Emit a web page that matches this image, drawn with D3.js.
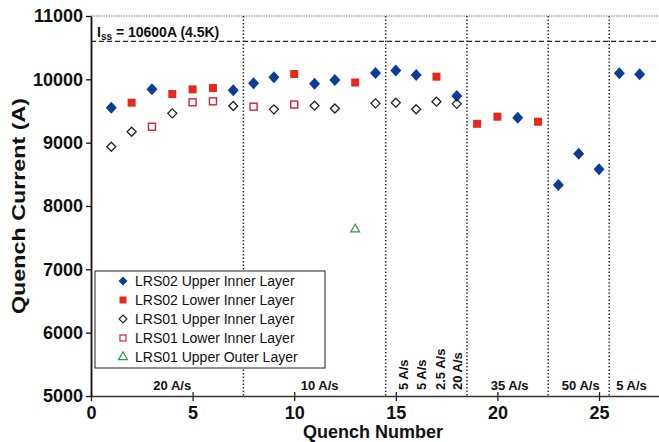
<!DOCTYPE html>
<html>
<head>
  <title>Quench Current</title>
  <script src="https://d3js.org/d3.v7.min.js"></script>
  <style>
    body { margin: 0; background: #fff; }
    text { font-family: "Liberation Sans", Arial, sans-serif; }
  </style>
</head>
<body>
  <div id="chart"></div>

  <script>
    // quench number / current (A) per series
    var lrs02UpperQ = [1, 3, 7, 8, 9, 11, 12, 14, 15, 16, 18, 21, 23, 24, 25, 26, 27];
    var lrs02UpperI = [9552, 9842, 9826, 9937, 10032, 9932, 9989, 10100, 10140, 10068, 9735, 9394, 8332, 8826, 8579, 10095, 10079];

    var lrs02LowerQ = [2, 4, 5, 6, 10, 13, 17, 19, 20, 22];
    var lrs02LowerI = [9631, 9768, 9842, 9863, 10084, 9950, 10042, 9298, 9410, 9331];

    var lrs01UpperQ = [1, 2, 4, 7, 9, 11, 12, 14, 15, 16, 17, 18];
    var lrs01UpperI = [8936, 9173, 9463, 9579, 9526, 9584, 9540, 9621, 9631, 9528, 9647, 9613];

    var lrs01LowerQ = [3, 5, 6, 8, 10];
    var lrs01LowerI = [9252, 9637, 9653, 9568, 9602];

    var lrs01OuterQ = [13];
    var lrs01OuterI = [7632];

    var seriesNames = ["LRS02 Upper Inner Layer", "LRS02 Lower Inner Layer", "LRS01 Upper Inner Layer",
                       "LRS01 Lower Inner Layer", "LRS01 Upper Outer Layer"];

    var xTicks = [0, 5, 10, 15, 20, 25];
    var yTicks = [5000, 6000, 7000, 8000, 9000, 10000, 11000];

    // ramp-rate region boundaries and labels
    var rampBounds = [7.5, 14.5, 18.5, 22.5, 25.5];
    var rampLabels = ["20 A/s", "10 A/s", "35 A/s", "50 A/s", "5 A/s"];
    var rampLabelX = [4, 11.25, 20.6, 24.1, 26.6];
    var rampVertLabels = ["5 A/s", "5 A/s", "2.5 A/s", "20 A/s"];
    var rampVertX = [15.6, 16.5, 17.4, 18.25];

    var issValue = 10600;

    var width = 659, height = 442;
    var margin = { top: 16, left: 91, bottom: 46 };

    var x = d3.scaleLinear().domain([0, 28]).range([margin.left, 660]);
    var y = d3.scaleLinear().domain([5000, 11000]).range([height - margin.bottom, margin.top]);

    var svg = d3.select("#chart").append("svg")
      .attr("width", width)
      .attr("height", height);

    // top border
    svg.append("line")
      .attr("x1", x(0)).attr("x2", 658)
      .attr("y1", y(11000)).attr("y2", y(11000))
      .attr("stroke", "#777").attr("stroke-width", 1.2)
      .attr("stroke-dasharray", "1.5,1");

    // vertical dotted region lines
    svg.selectAll(".bound")
      .data(rampBounds)
      .enter()
      .append("line")
      .attr("x1", function(d) { return x(d); })
      .attr("x2", function(d) { return x(d); })
      .attr("y1", y(11000)).attr("y2", y(5000))
      .attr("stroke", "#333").attr("stroke-width", 1.5)
      .attr("stroke-dasharray", "1.5,2");

    // Iss dashed line
    svg.append("line")
      .attr("x1", x(0)).attr("x2", 658)
      .attr("y1", y(issValue)).attr("y2", y(issValue))
      .attr("stroke", "#222").attr("stroke-width", 1.3)
      .attr("stroke-dasharray", "5,3");

    var iss = svg.append("text")
      .attr("x", x(0) + 6)
      .attr("y", y(issValue) - 4)
      .style("font-size", "14px")
      .style("font-weight", "bold")
      .attr("fill", "#111");
    iss.append("tspan").text("I");
    iss.append("tspan").attr("dy", 3).style("font-size", "10px").text("ss");
    iss.append("tspan").attr("dy", -3).text(" = 10600A (4.5K)");

    // axes
    var xAxis = svg.append("g")
      .attr("transform", "translate(0," + y(5000) + ")")
      .call(d3.axisBottom(x).tickValues(xTicks).tickSize(5).tickPadding(5).tickSizeOuter(0));
    xAxis.select(".domain").attr("stroke", "#333").attr("stroke-width", 1.5);
    xAxis.selectAll(".tick line").attr("y1", -4).attr("stroke", "#222").attr("stroke-width", 1.3);
    xAxis.selectAll(".tick text")
      .style("font-size", "18px").style("font-weight", "bold")
      .style("font-family", "'Liberation Sans', Arial, sans-serif")
      .attr("fill", "#111");

    var yAxis = svg.append("g")
      .attr("transform", "translate(" + x(0) + ",0)")
      .call(d3.axisLeft(y).tickValues(yTicks).tickSize(5).tickPadding(3).tickSizeOuter(0).tickFormat(d3.format("d")));
    yAxis.select(".domain").attr("stroke", "#111").attr("stroke-width", 1.8);
    yAxis.selectAll(".tick line").attr("stroke", "#111").attr("stroke-width", 1.3);
    yAxis.selectAll(".tick text")
      .style("font-size", "18px").style("font-weight", "bold")
      .style("font-family", "'Liberation Sans', Arial, sans-serif")
      .attr("fill", "#111");

    // axis titles
    svg.append("text")
      .attr("x", 373).attr("y", 438)
      .attr("text-anchor", "middle")
      .style("font-size", "18px").style("font-weight", "bold")
      .attr("fill", "#111")
      .text("Quench Number");

    svg.append("text")
      .attr("transform", "translate(25," + (y(5000) + y(11000)) / 2 + ") rotate(-90)")
      .attr("text-anchor", "middle")
      .attr("textLength", 216)
      .attr("lengthAdjust", "spacingAndGlyphs")
      .style("font-size", "18px").style("font-weight", "bold")
      .attr("fill", "#111")
      .text("Quench Current (A)");

    // ramp-rate labels
    svg.selectAll(".ramp")
      .data(rampLabels)
      .enter()
      .append("text")
      .attr("x", function(d, i) { return x(rampLabelX[i]); })
      .attr("y", 390)
      .attr("text-anchor", "middle")
      .style("font-size", "13px").style("font-weight", "bold")
      .attr("fill", "#111")
      .text(function(d) { return d; });

    svg.selectAll(".rampv")
      .data(rampVertLabels)
      .enter()
      .append("text")
      .attr("transform", function(d, i) { return "translate(" + x(rampVertX[i]) + ",390) rotate(-90)"; })
      .attr("text-anchor", "start")
      .style("font-size", "13px").style("font-weight", "bold")
      .attr("fill", "#111")
      .text(function(d) { return d; });

    // markers
    var blue = "#0a3c98", red = "#e8281c", openRed = "#d3203a", green = "#2c9a50";

    function pts(q, v) {
      return q.map(function(d, i) { return { q: d, v: v[i] }; });
    }

    // square diamond (rotated square), half-width w, half-height h
    function diamond(w, h) {
      return "M0," + (-h) + "L" + w + ",0L0," + h + "L" + (-w) + ",0Z";
    }

    var tri = d3.symbol().type(d3.symbolTriangle).size(34);

    svg.selectAll(".s1")
      .data(pts(lrs02UpperQ, lrs02UpperI))
      .enter()
      .append("path")
      .attr("d", diamond(5.5, 6))
      .attr("transform", function(d) { return "translate(" + x(d.q) + "," + y(d.v) + ")"; })
      .attr("fill", blue);

    svg.selectAll(".s2")
      .data(pts(lrs02LowerQ, lrs02LowerI))
      .enter()
      .append("rect")
      .attr("x", function(d) { return x(d.q) - 4; })
      .attr("y", function(d) { return y(d.v) - 4; })
      .attr("width", 8).attr("height", 8)
      .attr("fill", red);

    svg.selectAll(".s3")
      .data(pts(lrs01UpperQ, lrs01UpperI))
      .enter()
      .append("path")
      .attr("d", diamond(4.5, 4.5))
      .attr("transform", function(d) { return "translate(" + x(d.q) + "," + y(d.v) + ")"; })
      .attr("fill", "none")
      .attr("stroke", "#222").attr("stroke-width", 1.3);

    svg.selectAll(".s4")
      .data(pts(lrs01LowerQ, lrs01LowerI))
      .enter()
      .append("rect")
      .attr("x", function(d) { return x(d.q) - 3.5; })
      .attr("y", function(d) { return y(d.v) - 3.5; })
      .attr("width", 7).attr("height", 7)
      .attr("fill", "none")
      .attr("stroke", openRed).attr("stroke-width", 1.4);

    svg.selectAll(".s5")
      .data(pts(lrs01OuterQ, lrs01OuterI))
      .enter()
      .append("path")
      .attr("d", tri)
      .attr("transform", function(d) { return "translate(" + x(d.q) + "," + y(d.v) + ")"; })
      .attr("fill", "none")
      .attr("stroke", green).attr("stroke-width", 1.2);

    // legend
    var legend = svg.append("g").attr("transform", "translate(95,271)");
    legend.append("rect")
      .attr("width", 230).attr("height", 97)
      .attr("fill", "#fff")
      .attr("stroke", "#222").attr("stroke-width", 1);

    var rows = legend.selectAll(".row")
      .data(seriesNames)
      .enter()
      .append("g")
      .attr("transform", function(d, i) { return "translate(28," + (10 + i * 19) + ")"; });

    rows.each(function(d, i) {
      var g = d3.select(this);
      if (i === 0) g.append("path").attr("d", diamond(4.5, 4.5)).attr("fill", blue);
      if (i === 1) g.append("rect").attr("x", -3.5).attr("y", -3.5).attr("width", 7).attr("height", 7).attr("fill", red);
      if (i === 2) g.append("path").attr("d", diamond(4, 4)).attr("fill", "none").attr("stroke", "#222").attr("stroke-width", 1.1);
      if (i === 3) g.append("rect").attr("x", -3).attr("y", -3).attr("width", 6).attr("height", 6).attr("fill", "none").attr("stroke", openRed).attr("stroke-width", 1.2);
      if (i === 4) g.append("path").attr("d", tri).attr("fill", "none").attr("stroke", green).attr("stroke-width", 1.2);
    });

    rows.append("text")
      .attr("x", 12)
      .attr("y", 5)
      .style("font-size", "14px")
      .attr("fill", "#111")
      .text(function(d) { return d; });
  </script>
</body>
</html>
